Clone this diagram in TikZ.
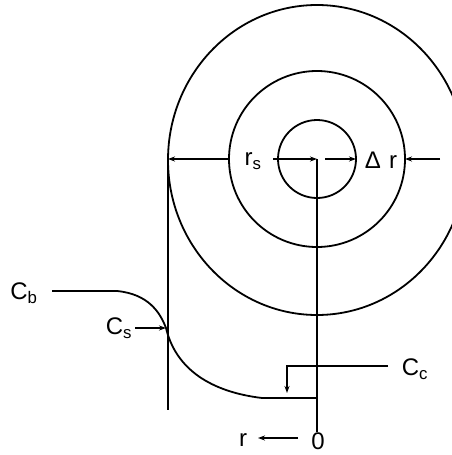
\documentclass[tikz,border=0pt]{standalone}
\usepackage{fontspec}
\setmainfont{Liberation Sans}
\usetikzlibrary{arrows.meta}
\begin{document}
\begin{tikzpicture}[x=1pt,y=-1pt, line width=1.8pt,
  arr/.style={-{Stealth[length=7pt,width=5pt]}},
  lbl/.style={font=\fontsize{24}{26}\selectfont, inner sep=0pt}]
\useasboundingbox (0,0) rectangle (452,455);
\coordinate (O) at (317,159);
\coordinate (mL) at (229,159);
\coordinate (mR) at (405,159);
\coordinate (iR) at (356,159);
\coordinate (wt) at (168,159);
\coordinate (wb) at (168,410);
\coordinate (ob) at (317,432);
% circles
\begin{scope}
\clip (0,0) rectangle (452,455);
\draw (317,160) ellipse [x radius=149, y radius=155];
\end{scope}
\draw (O) circle [radius=88];
\draw (O) circle [radius=39];
% vertical lines
\draw (wt) -- (wb);
\draw (O) -- (ob);
% dimension arrows
\draw[arr] (mL) -- (wt);
\node[lbl] (rs) at (253,161) {r\textsubscript{s}};
\coordinate (rsR) at (273,159);
\draw[arr] (rsR) -- (O);
\coordinate (dA) at (325,159);
\draw[arr] (dA) -- (iR);
\node[lbl] (dr) at (381,160) {Δ\hspace{8pt}r};
\coordinate (dB) at (440,159);
\draw[arr] (dB) -- (mR);
% concentration profile
\coordinate (cb0) at (52,291);
\coordinate (cb1) at (117,291);
\coordinate (cs) at (166,328);
\coordinate (cc0) at (262,398);
\coordinate (cc1) at (317,398);
\draw (cb0) -- (cb1) .. controls (148,294) and (160,312) .. (cs)
      .. controls (176,370) and (212,392) .. (cc0) -- (cc1);
\node[lbl] (Cb) at (24,293) {C\textsubscript{b}};
\node[lbl] (Cs) at (119,328) {C\textsubscript{s}};
\draw[arr] (Cs.east) ++(2pt,0) coordinate (csA) (csA) -- (cs);
\coordinate (cc2) at (388,366);
\coordinate (cc3) at (287,366);
\coordinate (cc4) at (287,393);
\draw[arr] (cc2) -- (cc3) -- (cc4);
\node[lbl] (Cc) at (415,369) {C\textsubscript{c}};
% r axis
\node[lbl] (zero) at (318,441) {0};
\node[lbl] (r) at (243,440) {r};
\coordinate (ra) at (298,438);
\coordinate (rb) at (258,438);
\draw[arr] (ra) -- (rb);
\end{tikzpicture}
\end{document}
